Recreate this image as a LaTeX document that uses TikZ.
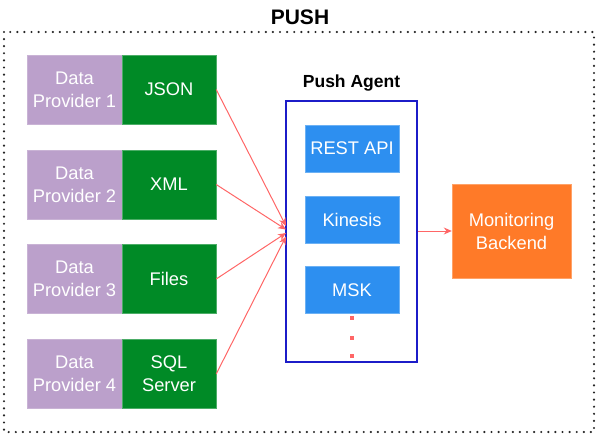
\documentclass[tikz,border=0pt]{standalone}
\usepackage{fontspec}
\setmainfont{Liberation Sans}
\usetikzlibrary{arrows.meta}
\definecolor{provpurple}{RGB}{187,160,203}
\definecolor{fmtgreen}{RGB}{0,138,38}
\definecolor{svcblue}{RGB}{45,143,240}
\definecolor{framblue}{RGB}{28,28,200}
\definecolor{backorange}{RGB}{255,122,40}
\definecolor{arrred}{RGB}{255,102,102}
\tikzset{
  txt/.style={font=\fontsize{18.3}{23}\selectfont, text=white, align=center, inner sep=0pt},
  provbox/.style={txt, fill=provpurple, draw=provpurple!80!white, minimum width=95pt, minimum height=69pt},
  fmtbox/.style={txt, fill=fmtgreen, draw=fmtgreen!70!white, minimum width=94pt, minimum height=69pt},
  svcbox/.style={txt, fill=svcblue, draw=svcblue!70!white, minimum width=94pt, minimum height=47pt},
  agentbox/.style={draw=framblue, line width=2pt, minimum width=131pt, minimum height=261pt, inner sep=0pt},
  backbox/.style={txt, fill=backorange, draw=backorange!70!white, minimum width=119pt, minimum height=94pt},
  conn/.style={draw=arrred, line width=1pt, -{Stealth[length=8pt,width=7pt]}},
  outer/.style={line width=2.4pt, dash pattern=on 0pt off 7.1pt, line cap=round, draw=black!85},
  title/.style={font=\bfseries\fontsize{21}{24}\selectfont, inner sep=0pt},
  subtitle/.style={font=\bfseries\fontsize{17.5}{20}\selectfont, inner sep=0pt},
}
\begin{document}
\begin{tikzpicture}[x=1pt,y=-1pt]
\useasboundingbox (0,0) rectangle (597,441);
\draw[outer] (4,32) rectangle (594,432);
\node[title] (pushtitle) at (300,17) {PUSH};

\node[provbox] (p1) at (74.5,89.5) {Data\\Provider 1};
\node[fmtbox] (f1) at (169,89.5) {JSON};
\node[provbox] (p2) at (74.5,184.5) {Data\\Provider 2};
\node[fmtbox] (f2) at (169,184.5) {XML};
\node[provbox] (p3) at (74.5,279) {Data\\Provider 3};
\node[fmtbox] (f3) at (169,279) {Files};
\node[provbox] (p4) at (74.5,374) {Data\\Provider 4};
\node[fmtbox] (f4) at (169,374) {SQL\\Server};

\node[subtitle] (agtitle) at (351.5,83) {Push Agent};
\node[agentbox] (agent) at (351.5,231.5) {};
\node[svcbox] (rest) at (352,148.5) {REST API};
\node[svcbox] (kin) at (352,219.5) {Kinesis};
\node[svcbox] (msk) at (352,290) {MSK};
\fill[arrred] (350,316) rectangle (354,320);
\fill[arrred] (350,336) rectangle (354,340);
\fill[arrred] (350,354) rectangle (354,358);

\node[backbox] (back) at (511.5,231) {Monitoring\\Backend};

\coordinate (e1) at (286,226);
\coordinate (e2) at (286,229.5);
\coordinate (e3) at (286,233);
\coordinate (e4) at (286,236.5);
\draw[conn] (f1.east) -- (e1);
\draw[conn] (f2.east) -- (e2);
\draw[conn] (f3.east) -- (e3);
\draw[conn] (f4.east) -- (e4);
\draw[conn] (agent.east |- back.west) -- (back.west);
\end{tikzpicture}
\end{document}
